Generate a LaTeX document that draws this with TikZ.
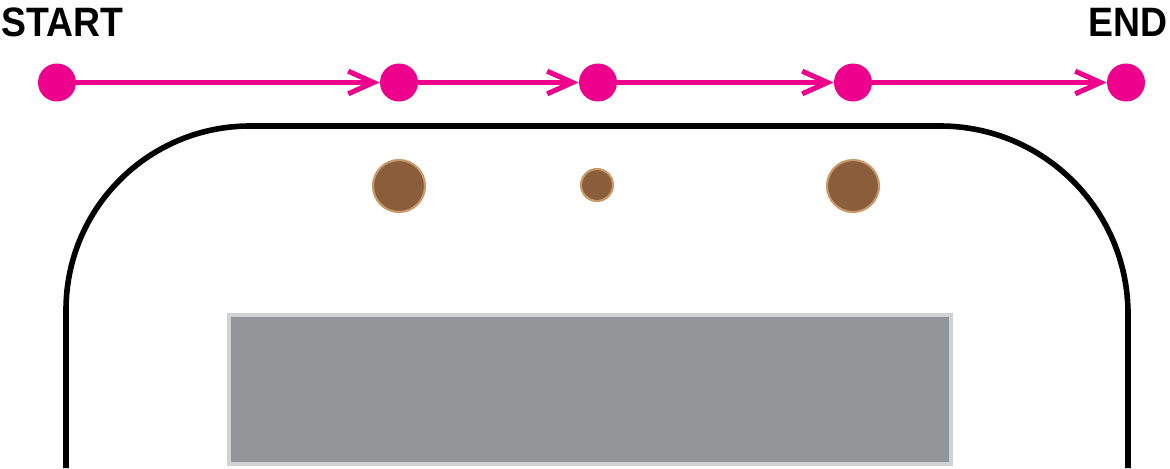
\documentclass[tikz,border=0pt]{standalone}
\usepackage{fontspec}
\setmainfont{Liberation Sans}
\usetikzlibrary{arrows.meta}
\definecolor{pink}{HTML}{EC008C}
\definecolor{brownfill}{HTML}{8A5D3B}
\definecolor{brownedge}{HTML}{C8996A}
\definecolor{greyfill}{HTML}{939598}
\definecolor{greyedge}{HTML}{D1D2D4}
\tikzset{
  dot/.style={circle, fill=pink, inner sep=0pt, minimum size=28.5pt},
  flow/.style={draw=pink, line width=3.8pt, -{Straight Barb[length=19pt, width=17pt, line width=3.8pt]}},
  bead/.style={circle, fill=brownfill, draw=brownedge, line width=1.6pt, inner sep=0pt},
  label/.style={font=\bfseries\fontsize{30.8}{32}\selectfont, inner sep=0pt, xscale=0.91},
}
\begin{document}
\begin{tikzpicture}[x=0.75pt, y=-0.75pt]
\useasboundingbox (0,0) rectangle (1170,468);
% outline
\draw[line width=4.2pt] (66,468) -- (66,310) arc[start angle=180, end angle=270, radius=184] -- (940,126) arc[start angle=270, end angle=360, radius=188] -- (1128,468);
% screen
\draw[fill=greyfill, draw=greyedge, line width=3.5pt] (229,315) rectangle (951,464);
% beads
\node[bead, minimum size=39pt] (b1) at (399,186) {};
\node[bead, minimum size=24pt] (b2) at (597,185) {};
\node[bead, minimum size=39pt] (b3) at (853,186) {};
% dots
\node[dot] (n1) at (57,82.5) {};
\node[dot] (n2) at (399,82.5) {};
\node[dot] (n3) at (598,82.5) {};
\node[dot] (n4) at (853,82.5) {};
\node[dot] (n5) at (1126,82.5) {};
\draw[flow] (n1) -- (n2);
\draw[flow] (n2) -- (n3);
\draw[flow] (n3) -- (n4);
\draw[flow] (n4) -- (n5);
% labels
\node[label, anchor=base west] (start) at (1,36) {START};
\node[label, anchor=base east] (end) at (1168,36) {END};
\end{tikzpicture}
\end{document}
